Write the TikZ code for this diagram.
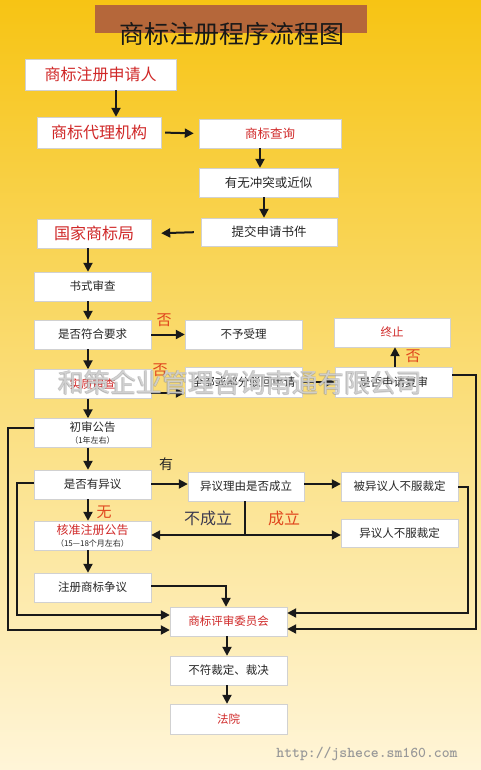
\documentclass[tikz,border=0pt]{standalone}
\usepackage{fontspec}
\setmainfont{Noto Sans CJK SC}
\newfontfamily\cjk{Noto Sans CJK SC}
\usetikzlibrary{arrows.meta,calc}
\definecolor{bgtop}{HTML}{F7C414}
\definecolor{bgmid}{HTML}{FADD78}
\definecolor{bgbot}{HTML}{FFF5D8}
\definecolor{banner}{HTML}{B5673A}
\definecolor{redtxt}{HTML}{D02828}
\definecolor{notxt}{HTML}{E0461E}
\definecolor{slate}{HTML}{3C3A50}
\tikzset{
  box/.style={draw=black!18, fill=white, inner sep=0pt, minimum width=117pt, minimum height=29pt, align=center, font=\fontsize{11.5}{13}\selectfont, text=black!85},
  bigred/.style={text=redtxt, font=\fontsize{16}{18}\selectfont},
  midred/.style={text=redtxt, font=\fontsize{12.5}{14}\selectfont},
  arr/.style={-{Triangle[length=9pt,width=9pt]}, line width=2pt, black!90},
  ln/.style={line width=2pt, black!90},
  lbl/.style={inner sep=0pt},
  wmk/.style={inner sep=0pt, font=\fontsize{26}{28}\selectfont},
}
\begin{document}
\begin{tikzpicture}[x=1pt,y=-1pt]
\useasboundingbox (0,0) rectangle (481,770);
\shade[top color=bgtop, bottom color=bgbot, middle color=bgmid] (0,0) rectangle (481,770);
% title
\fill[banner] (95,5) rectangle (367,33);
\node[lbl, font=\fontsize{25}{27}\selectfont, text=black!90] (title) at (232,34) {商标注册程序流程图};
% nodes
\node[box, bigred, minimum width=151pt, minimum height=31pt] (applicant) at (100.5,74.5) {商标注册申请人};
\node[box, bigred, minimum width=124pt, minimum height=31pt] (agent) at (99,132.5) {商标代理机构};
\node[box, midred, minimum width=142pt] (search) at (270,133.5) {商标查询};
\node[box, minimum width=139pt, font=\fontsize{12.5}{14}\selectfont] (conflict) at (268.5,182.5) {有无冲突或近似};
\node[box, minimum width=136pt, minimum height=28pt, font=\fontsize{12.5}{14}\selectfont] (submit) at (269,232) {提交申请书件};
\node[box, bigred, minimum width=114pt] (cnipa) at (94,233.5) {国家商标局};
\node[box] (formal) at (92.5,286.5) {书式审查};
\node[box] (meet) at (92.5,334.5) {是否符合要求};
\node[box] (reject) at (243.5,334.5) {不予受理};
\node[box, text=redtxt] (subst) at (92.5,384) {实质审查};
\node[box, minimum height=30pt] (reject2) at (243.5,382) {全部或部分驳回申请};
\node[box, minimum height=30pt] (review) at (393.5,382) {是否申请复审};
\node[box, text=redtxt, minimum width=116pt] (stop) at (392,332.5) {终止};
\node[box] (prelim) at (92.5,433) {初审公告\\[-1pt]{\fontsize{8}{9}\selectfont（1年左右）}};
\node[box] (oppose) at (92.5,484.5) {是否有异议};
\node[box, minimum width=116pt] (reason) at (246,486.5) {异议理由是否成立};
\node[box] (opposee) at (399.5,486.5) {被异议人不服裁定};
\node[box, minimum height=28pt] (opposer) at (399.5,533) {异议人不服裁定};
\node[box] (approve) at (92.5,535.5) {\textcolor{redtxt}{\fontsize{12}{13}\selectfont 核准注册公告}\\[-1pt]{\fontsize{8}{9}\selectfont（15—18个月左右）}};
\node[box] (dispute) at (92.5,587.5) {注册商标争议};
\node[box, text=redtxt] (board) at (228.5,621.5) {商标评审委员会};
\node[box] (ruling) at (228.5,670.5) {不符裁定、裁决};
\node[box, text=redtxt, minimum height=30pt] (court) at (228.5,719) {法院};
% connectors
\draw[arr] (applicant.south -| 116,0) -- (agent.north -| 116,0);
\draw[arr, shorten <=4pt, shorten >=5pt] (agent.east) -- (search.west);
\draw[arr] (search.south -| 260,0) -- (conflict.north -| 260,0);
\draw[arr] (conflict.south -| 264,0) -- (submit.north -| 264,0);
\draw[arr, shorten <=7pt, shorten >=10pt] (submit.west) -- (cnipa.east);
\draw[arr] (cnipa.south -| 88,0) -- (formal.north -| 88,0);
\draw[arr] (formal.south -| 88,0) -- (meet.north -| 88,0);
\draw[arr] (meet.south -| 88,0) -- (subst.north -| 88,0);
\draw[arr] (subst.south -| 88,0) -- (prelim.north -| 88,0);
\draw[arr] (prelim.south -| 88,0) -- (oppose.north -| 88,0);
\draw[arr] (oppose.south -| 88,0) -- (approve.north -| 88,0);
\draw[arr] (approve.south -| 88,0) -- (dispute.north -| 88,0);
\draw[arr] (meet.east) -- (reject.west);
\node[lbl, text=notxt, font=\fontsize{15}{16}\selectfont] (no1) at (164,320) {否};
\draw[arr] (subst.east |- 0,393) -- (reject2.west |- 0,393);
\node[lbl, text=notxt, font=\fontsize{15}{16}\selectfont] (no2) at (160,370) {否};
\draw[arr] (reject2.east) -- (review.west);
\draw[arr] (review.north -| 395,0) -- (stop.south -| 395,0);
\node[lbl, text=notxt, font=\fontsize{15}{16}\selectfont] (no3) at (413,356) {否};
\coordinate (r1) at (476,375);
\draw[arr] (review.east |- r1) -- (r1) -- (476,629) -- (board.east |- 0,629);
\coordinate (l1) at (8,428);
\draw[arr] (prelim.west |- l1) -- (l1) -- (8,630) -- (board.west |- 0,630);
\coordinate (l2) at (17,483);
\draw[arr] (oppose.west |- l2) -- (l2) -- (17,615) -- (board.west |- 0,615);
\draw[arr] (oppose.east |- 0,484) -- (reason.west |- 0,484);
\node[lbl, font=\fontsize{14}{15}\selectfont, text=black!85] (yes) at (166,464) {有};
\draw[arr] (reason.east |- 0,484) -- (opposee.west |- 0,484);
\coordinate (r2) at (468,487);
\draw[arr] (opposee.east |- r2) -- (r2) -- (468,613) -- (board.east |- 0,613);
\coordinate (split) at (245,535);
\draw[ln] (reason.south -| split) -- (split);
\draw[arr] (split) -- (approve.east |- split);
\draw[arr] (split) -- (opposer.west |- split);
\node[lbl, text=slate, font=\fontsize{16}{17}\selectfont] (notest) at (208,518) {不成立};
\node[lbl, text=notxt, font=\fontsize{16}{17}\selectfont] (est) at (284,518) {成立};
\node[lbl, text=notxt, font=\fontsize{15}{16}\selectfont] (none) at (104,512) {无};
\coordinate (d1) at (226,586);
\draw[arr] (dispute.east |- d1) -- (d1) -- (board.north -| d1);
\draw[arr] (board.south -| 227,0) -- (ruling.north -| 227,0);
\draw[arr] (ruling.south -| 227,0) -- (court.north -| 227,0);
% watermark (outlined grey text)
\foreach \dx/\dy in {-0.6/0,0.6/0,0/-0.6,0/0.6}
  \node[wmk, text=black!45, opacity=0.45] at (240+\dx,383+\dy) {和策企业管理咨询南通有限公司};
\node[wmk, text=white, opacity=0.55] (wm) at (240,383) {和策企业管理咨询南通有限公司};
\node[lbl, font=\ttfamily\bfseries\fontsize{15}{16}\selectfont, text=black!40] (url) at (367,754) {http://jshece.sm160.com};
\end{tikzpicture}
\end{document}
